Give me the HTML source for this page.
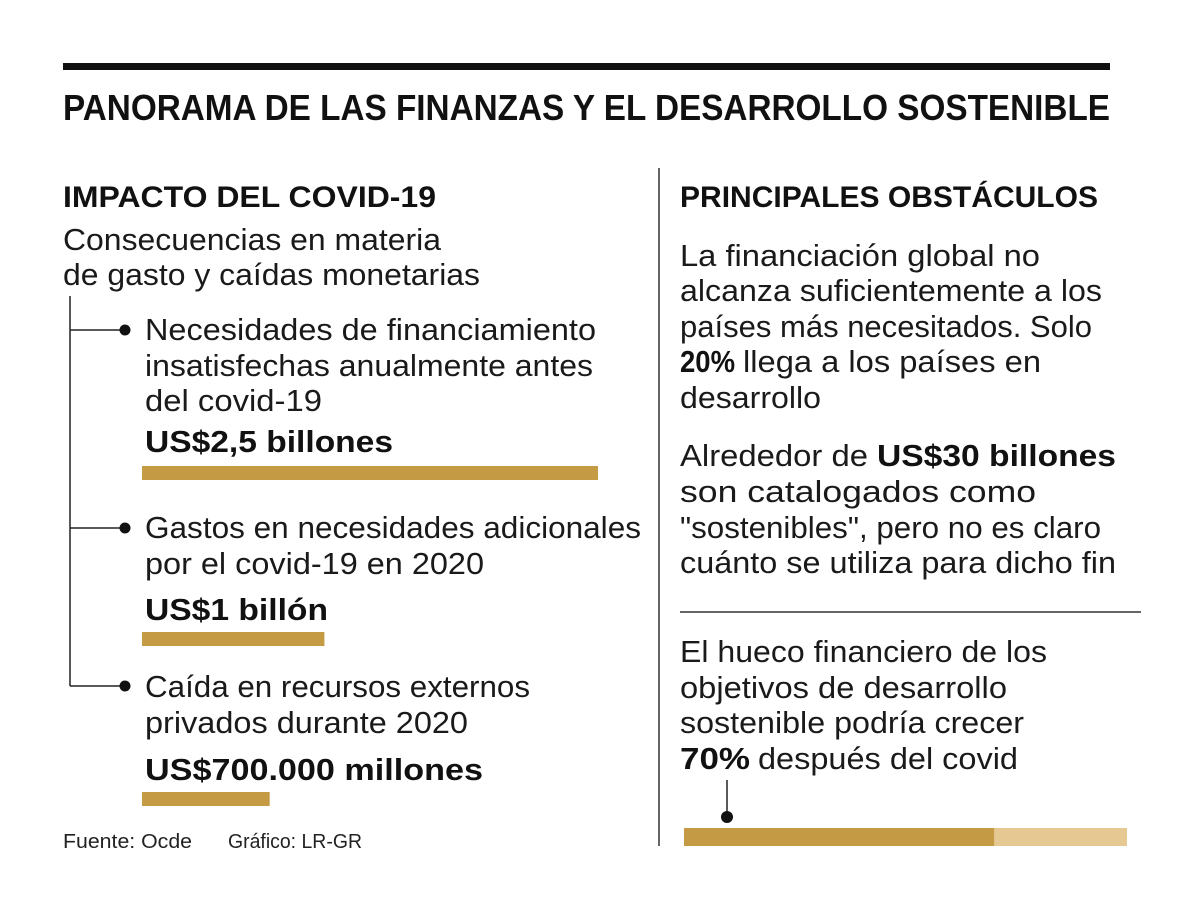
<!DOCTYPE html>
<html><head><meta charset="utf-8"><style>
html,body{margin:0;padding:0;background:#fff;}
svg{display:block;font-family:"Liberation Sans",sans-serif;}
.t{font-size:31px;fill:#1a1a1a;}
.b{font-size:31px;font-weight:bold;fill:#111;}
.h{font-size:30px;font-weight:bold;fill:#111;}
.f{font-size:20px;fill:#222;}
</style></head><body>
<svg id="c" width="1200" height="914" viewBox="0 0 1200 914">
<rect x="63" y="63" width="1047" height="7" fill="#111"/>
<text x="63" y="120" style="font-size:36px;font-weight:bold" fill="#111" textLength="1047" lengthAdjust="spacingAndGlyphs">PANORAMA DE LAS FINANZAS Y EL DESARROLLO SOSTENIBLE</text>
<line x1="659" y1="168" x2="659" y2="846" stroke="#333" stroke-width="1.5"/>
<text class="h" x="63" y="207" textLength="373" lengthAdjust="spacingAndGlyphs">IMPACTO DEL COVID-19</text>
<text class="h" x="680" y="207" textLength="418" lengthAdjust="spacingAndGlyphs">PRINCIPALES OBSTÁCULOS</text>
<g>
<text class="t" x="63" y="250" textLength="378" lengthAdjust="spacingAndGlyphs">Consecuencias en materia</text>
<text class="t" x="63" y="285" textLength="417" lengthAdjust="spacingAndGlyphs">de gasto y caídas monetarias</text>
</g>
<g stroke="#222" stroke-width="1.5">
<line x1="70" y1="296" x2="70" y2="686"/>
<line x1="70" y1="330" x2="124" y2="330"/>
<line x1="70" y1="528" x2="124" y2="528"/>
<line x1="70" y1="686" x2="124" y2="686"/>
</g>
<circle cx="125" cy="330" r="5.5" fill="#111"/>
<circle cx="125" cy="528" r="5.5" fill="#111"/>
<circle cx="125" cy="686" r="5.5" fill="#111"/>
<g>
<text class="t" x="145" y="340" textLength="451" lengthAdjust="spacingAndGlyphs">Necesidades de financiamiento</text>
<text class="t" x="145" y="376" textLength="448" lengthAdjust="spacingAndGlyphs">insatisfechas anualmente antes</text>
<text class="t" x="145" y="411" textLength="177" lengthAdjust="spacingAndGlyphs">del covid-19</text>
<text class="b" x="145" y="452" textLength="248" lengthAdjust="spacingAndGlyphs">US$2,5 billones</text>
</g>
<g>
<text class="t" x="145" y="538" textLength="496" lengthAdjust="spacingAndGlyphs">Gastos en necesidades adicionales</text>
<text class="t" x="145" y="574" textLength="339" lengthAdjust="spacingAndGlyphs">por el covid-19 en 2020</text>
<text class="b" x="145" y="620" textLength="183" lengthAdjust="spacingAndGlyphs">US$1 billón</text>
</g>
<g>
<text class="t" x="145" y="697" textLength="385" lengthAdjust="spacingAndGlyphs">Caída en recursos externos</text>
<text class="t" x="145" y="733" textLength="323" lengthAdjust="spacingAndGlyphs">privados durante 2020</text>
<text class="b" x="145" y="780" textLength="338" lengthAdjust="spacingAndGlyphs">US$700.000 millones</text>
</g>
<g id="bars"></g>
<text class="f" x="63" y="848" textLength="129" lengthAdjust="spacingAndGlyphs">Fuente: Ocde</text>
<text class="f" x="228" y="848" textLength="134" lengthAdjust="spacingAndGlyphs">Gráfico: LR-GR</text>
<g>
<text class="t" x="680" y="266" textLength="360" lengthAdjust="spacingAndGlyphs">La financiación global no</text>
<text class="t" x="680" y="301" textLength="422" lengthAdjust="spacingAndGlyphs">alcanza suficientemente a los</text>
<text class="t" x="680" y="337" textLength="412" lengthAdjust="spacingAndGlyphs">países más necesitados. Solo</text>
<text class="b" x="680" y="372" textLength="55" lengthAdjust="spacingAndGlyphs">20%</text>
<text class="t" x="743" y="372" textLength="298" lengthAdjust="spacingAndGlyphs">llega a los países en</text>
<text class="t" x="680" y="408" textLength="141" lengthAdjust="spacingAndGlyphs">desarrollo</text>
</g>
<g>
<text class="t" x="680" y="466" textLength="188" lengthAdjust="spacingAndGlyphs">Alrededor de</text>
<text class="b" x="877" y="466" textLength="239" lengthAdjust="spacingAndGlyphs">US$30 billones</text>
<text class="t" x="680" y="502" textLength="356" lengthAdjust="spacingAndGlyphs">son catalogados como</text>
<text class="t" x="680" y="538" textLength="421" lengthAdjust="spacingAndGlyphs">"sostenibles", pero no es claro</text>
<text class="t" x="680" y="573" textLength="436" lengthAdjust="spacingAndGlyphs">cuánto se utiliza para dicho fin</text>
</g>
<line x1="680" y1="612" x2="1141" y2="612" stroke="#333" stroke-width="1.5"/>
<g>
<text class="t" x="680" y="662" textLength="367" lengthAdjust="spacingAndGlyphs">El hueco financiero de los</text>
<text class="t" x="680" y="698" textLength="327" lengthAdjust="spacingAndGlyphs">objetivos de desarrollo</text>
<text class="t" x="680" y="733" textLength="344" lengthAdjust="spacingAndGlyphs">sostenible podría crecer</text>
<text class="b" x="680" y="769" textLength="70" lengthAdjust="spacingAndGlyphs">70%</text>
<text class="t" x="758" y="769" textLength="260" lengthAdjust="spacingAndGlyphs">después del covid</text>
</g>
<line x1="727" y1="780" x2="727" y2="817" stroke="#222" stroke-width="1.5"/>
<circle cx="727" cy="817" r="6" fill="#111"/>
<g id="gap"></g>
</svg>
<script>
const categories = ["Necesidades insatisfechas", "Gastos covid-19", "Caída recursos privados"];
const valuesTrillion = [2.5, 1, 0.7];
const gapGrowthPct = [70];
const NS = "http://www.w3.org/2000/svg";
const barX = 142, unit = 456 / 2.5;
const barY = [466, 632, 792];
const xScale = v => v * unit;
const g = document.getElementById("bars");
valuesTrillion.forEach((v, i) => {
  const r = document.createElementNS(NS, "rect");
  r.setAttribute("x", barX); r.setAttribute("y", barY[i]);
  r.setAttribute("width", xScale(v)); r.setAttribute("height", 14);
  r.setAttribute("fill", "#c49a45");
  
  
  g.appendChild(r);
});
const gx = 684, gw = 443, gy = 828, gh = 18;
const pScale = p => p / 100 * gw;
const gg = document.getElementById("gap");
const bg = document.createElementNS(NS, "rect");
bg.setAttribute("x", gx); bg.setAttribute("y", gy); bg.setAttribute("width", gw); bg.setAttribute("height", gh); bg.setAttribute("fill", "#e6c992");


gg.appendChild(bg);
const fg = document.createElementNS(NS, "rect");
fg.setAttribute("x", gx); fg.setAttribute("y", gy); fg.setAttribute("width", pScale(gapGrowthPct[0])); fg.setAttribute("height", gh); fg.setAttribute("fill", "#c49a45");


gg.appendChild(fg);
</script>
</body></html>
